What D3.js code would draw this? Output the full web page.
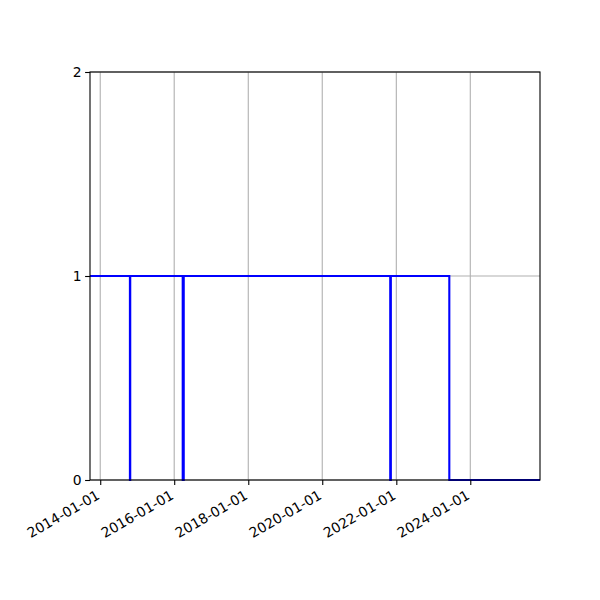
<!DOCTYPE html>
<html>
<head>
<meta charset="utf-8">
<script src="https://cdn.jsdelivr.net/npm/d3@7"></script>
<style>
body { margin: 0; background: #fff; }
text { font-family: "DejaVu Sans", sans-serif; }
</style>
</head>
<body>
<script>
// step series: value holds from each date until the next one
var stepDates = ["2013-09-22", "2014-10-21", "2014-10-24", "2016-03-25", "2016-04-04",
                 "2021-11-02", "2021-11-08", "2023-06-08", "2025-11-19"];
var stepValues = [1, 0, 1, 0, 1, 0, 1, 0, 0];
var xTickDates = ["2014-01-01", "2016-01-01", "2018-01-01", "2020-01-01", "2022-01-01", "2024-01-01"];
var yTicks = [0, 1, 2];

var parse = d3.timeParse("%Y-%m-%d");
var fmt = d3.timeFormat("%Y-%m-%d");

var mLeft = 90, mRight = 540, mTop = 72, mBottom = 480;

var svg = d3.select("body").append("svg")
	.attr("width", 600).attr("height", 600);

var x = d3.scaleTime()
	.domain([parse("2013-09-22"), parse("2025-11-19")])
	.range([mLeft, mRight]);
var y = d3.scaleLinear().domain([0, 2]).range([mBottom, mTop]);

var ticks = xTickDates.map(parse);

// grid
svg.append("g").selectAll("line").data(ticks).enter().append("line")
	.attr("x1", function(d){ return x(d); }).attr("x2", function(d){ return x(d); })
	.attr("y1", mTop).attr("y2", mBottom)
	.style("stroke", "#b0b0b0").style("stroke-width", 1.1);
svg.append("g").selectAll("line").data(yTicks).enter().append("line")
	.attr("x1", mLeft).attr("x2", mRight)
	.attr("y1", function(d){ return y(d); }).attr("y2", function(d){ return y(d); })
	.style("stroke", "#b0b0b0").style("stroke-width", 1.1);

var data = stepDates.map(function(d, i){ return {date: parse(d), value: stepValues[i]}; });

svg.append("defs").append("clipPath").attr("id", "clip")
	.append("rect").attr("x", mLeft).attr("y", mTop - 2)
	.attr("width", mRight - mLeft).attr("height", mBottom - mTop + 4);

var line = d3.line()
	.x(function(d){ return x(d.date); })
	.y(function(d){ return y(d.value); })
	.curve(d3.curveStepAfter);

svg.append("path").datum(data)
	.attr("d", line)
	.attr("clip-path", "url(#clip)")
	.style("fill", "none")
	.style("stroke", "#0000ff")
	.style("stroke-width", 2.1);

// x axis
var xAxis = d3.axisBottom(x).tickValues(ticks).tickFormat(fmt).tickSize(4.9).tickPadding(3.5);
var gx = svg.append("g").attr("transform", "translate(0," + mBottom + ")").call(xAxis);
gx.select(".domain").remove();
gx.selectAll("line").style("stroke", "#000").style("stroke-width", 1.1);
gx.selectAll("text")
	.style("font-size", "13.9px")
	.style("fill", "#000")
	.attr("text-anchor", "end")
	.attr("dy", null)
	.attr("x", 0).attr("y", 0)
	.attr("transform", "translate(0,18) rotate(-30)");

// y axis
var yAxis = d3.axisLeft(y).tickValues(yTicks).tickFormat(d3.format("d")).tickSize(4.9).tickPadding(3.5);
var gy = svg.append("g").attr("transform", "translate(" + mLeft + ",0)").call(yAxis);
gy.select(".domain").remove();
gy.selectAll("line").style("stroke", "#000").style("stroke-width", 1.1);
gy.selectAll("text").style("font-size", "13.9px").style("fill", "#000");

// frame
svg.append("rect")
	.attr("x", mLeft).attr("y", mTop)
	.attr("width", mRight - mLeft).attr("height", mBottom - mTop)
	.style("fill", "none").style("stroke", "#000").style("stroke-width", 1.1);
</script>
</body>
</html>
